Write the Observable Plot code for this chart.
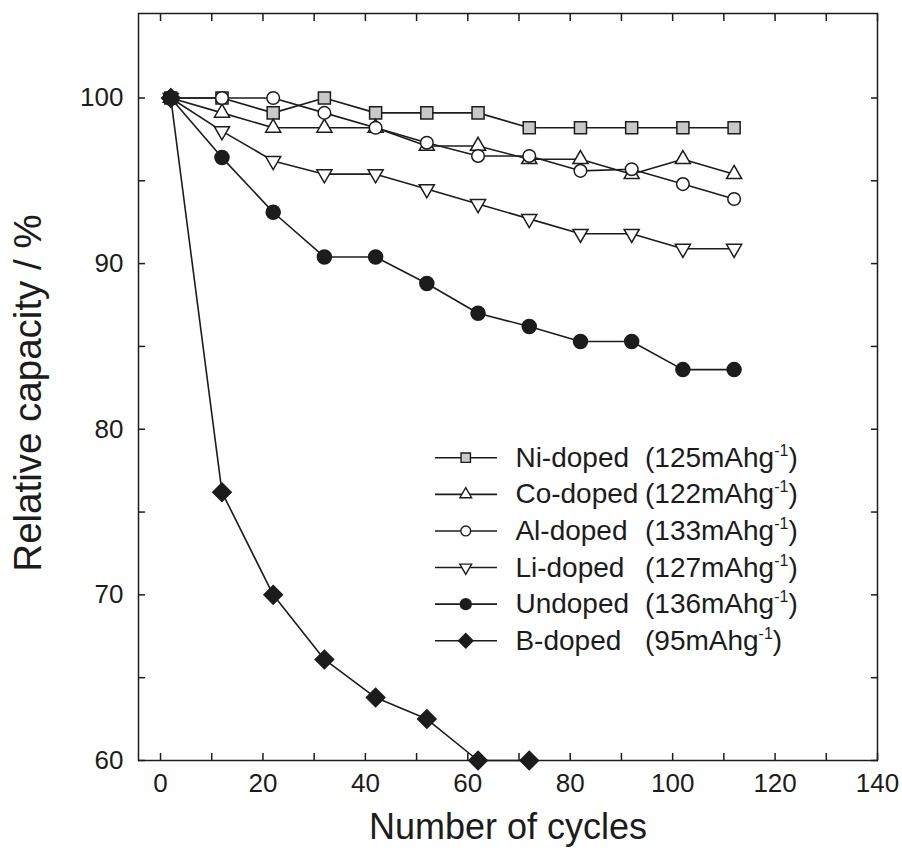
<!DOCTYPE html>
<html>
<head>
<meta charset="utf-8">
<script src="https://cdn.jsdelivr.net/npm/d3@7"></script>
<script src="https://cdn.jsdelivr.net/npm/@observablehq/plot@0.6"></script>
<style>
  body { margin: 0; background: #fff; }
  #chart { width: 902px; height: 852px; }
</style>
</head>
<body>
<div id="chart"></div>
<script>
// ---- data ----
const cycles = [2, 12, 22, 32, 42, 52, 62, 72, 82, 92, 102, 112];
const niDoped = [100, 100, 99.1, 100, 99.1, 99.1, 99.1, 98.2, 98.2, 98.2, 98.2, 98.2];
const coDoped = [100, 99.1, 98.2, 98.2, 98.2, 97.1, 97.1, 96.3, 96.3, 95.4, 96.3, 95.4];
const alDoped = [100, 100, 100, 99.1, 98.2, 97.3, 96.5, 96.5, 95.6, 95.7, 94.8, 93.9];
const liDoped = [100, 98.0, 96.2, 95.4, 95.4, 94.5, 93.6, 92.7, 91.8, 91.8, 90.9, 90.9];
const undoped = [100, 96.4, 93.1, 90.4, 90.4, 88.8, 87.0, 86.2, 85.3, 85.3, 83.6, 83.6];
const bDoped  = [100, 76.2, 70.0, 66.1, 63.8, 62.5, 60.0, 60.0];

const seriesNames = ["Ni-doped", "Co-doped", "Al-doped", "Li-doped", "Undoped", "B-doped"];
const capacities = [125, 122, 133, 127, 136, 95];

const xTickLabels = [0, 20, 40, 60, 80, 100, 120, 140];
const xMinorTicks = [0, 10, 20, 30, 40, 50, 60, 70, 80, 90, 100, 110, 120, 130, 140];
const yTickLabels = [60, 70, 80, 90, 100];
const yMinorTicks = [60, 65, 70, 75, 80, 85, 90, 95, 100];

// ---- styles ----
const ink = "#1c1c1c";
const seriesValues = [niDoped, coDoped, alDoped, liDoped, undoped, bDoped];
const markerStyles = [
  { symbol: "square",   fill: "#c9c9c9", r: 6.8, rotate: 0 },
  { symbol: "triangle", fill: "#fff",    r: 5.6, rotate: 0 },
  { symbol: "circle",   fill: "#fff",    r: 6.3, rotate: 0 },
  { symbol: "triangle", fill: "#fff",    r: 5.6, rotate: 180 },
  { symbol: "circle",   fill: ink,       r: 7.0, rotate: 0 },
  { symbol: "diamond2", fill: ink,       r: 8.3, rotate: 0 }
];

const rows = seriesNames.flatMap((name, i) =>
  seriesValues[i].map((v, j) => ({ series: name, cycle: cycles[j], value: v }))
);

// legend layout (data units inside the frame)
const legendTop = 78.28, legendStep = 2.21;
const legendLine = [53.7, 65.8], legendMark = 59.6, legendNameX = 69.3, legendCapX = 94.6;
const legendRows = seriesNames.map((name, i) => ({
  name, cap: `(${capacities[i]}mAhg`, y: legendTop - i * legendStep, i
}));

const tick = 7;
const tickStyle = { tickSize: tick, fill: "none", stroke: ink, strokeWidth: 1.5, label: null };

const plot = Plot.plot({
  width: 902,
  height: 852,
  marginLeft: 138,
  marginRight: 25,
  marginTop: 13,
  marginBottom: 92,
  x: { domain: [-4.3, 140] },
  y: { domain: [60, 105.1] },
  style: {
    fontFamily: "'Liberation Sans', Arial, Helvetica, sans-serif",
    color: ink,
    background: "#fff",
    overflow: "visible"
  },
  marks: [
    Plot.line(rows, { x: "cycle", y: "value", z: "series", stroke: ink, strokeWidth: 1.6 }),
    ...seriesNames.map((name, i) =>
      Plot.dot(rows.filter(d => d.series === name), {
        x: "cycle", y: "value",
        symbol: markerStyles[i].symbol,
        r: markerStyles[i].r,
        rotate: markerStyles[i].rotate,
        fill: markerStyles[i].fill,
        stroke: ink, strokeWidth: 1.5
      })
    ),
    // legend
    Plot.ruleY(legendRows, { y: "y", x1: legendLine[0], x2: legendLine[1], stroke: ink, strokeWidth: 1.6 }),
    ...legendRows.map((row, i) =>
      Plot.dot([row], {
        x: legendMark, y: "y",
        symbol: markerStyles[i].symbol,
        r: markerStyles[i].r * 0.78,
        rotate: markerStyles[i].rotate,
        fill: markerStyles[i].fill,
        stroke: ink, strokeWidth: 1.4
      })
    ),
    Plot.text(legendRows, { x: legendNameX, y: "y", text: "name", textAnchor: "start", fontSize: 28, fill: ink }),
    Plot.text(legendRows, { x: legendCapX, y: "y", text: "cap", textAnchor: "start", fontSize: 28, fill: ink }),
    // frame & inward ticks
    Plot.frame({ stroke: ink, strokeWidth: 1.5 }),
    Plot.axisX(xMinorTicks, { anchor: "bottom", dy: -tick, ...tickStyle }),
    Plot.axisX(xMinorTicks, { anchor: "top", dy: tick, ...tickStyle }),
    Plot.axisY(yMinorTicks, { anchor: "left", dx: tick, ...tickStyle }),
    Plot.axisY(yMinorTicks, { anchor: "right", dx: -tick, ...tickStyle }),
    Plot.axisX(xTickLabels, { anchor: "bottom", tickSize: 0, tickPadding: 13, fontSize: 26, fill: ink, label: null }),
    Plot.axisY(yTickLabels, { anchor: "left", tickSize: 0, tickPadding: 15, fontSize: 26, fill: ink, label: null }),
    Plot.text(["Number of cycles"], { frameAnchor: "bottom", lineAnchor: "middle", textAnchor: "middle", dy: 67, fontSize: 36, fill: ink }),
    Plot.text(["Relative capacity / %"], { frameAnchor: "left", lineAnchor: "middle", textAnchor: "middle", dx: -110, dy: 6, rotate: -90, fontSize: 38.5, fill: ink })
  ]
});

// superscript "-1" on the capacity labels
d3.select(plot).selectAll("text").each(function () {
  const t = this.textContent;
  if (/mAhg$/.test(t)) {
    const el = d3.select(this);
    el.append("tspan").attr("dy", -11).attr("font-size", 16).text("-1");
    el.append("tspan").attr("dy", 11).attr("font-size", 28).text(")");
  }
});

document.getElementById("chart").appendChild(plot);
</script>
</body>
</html>
